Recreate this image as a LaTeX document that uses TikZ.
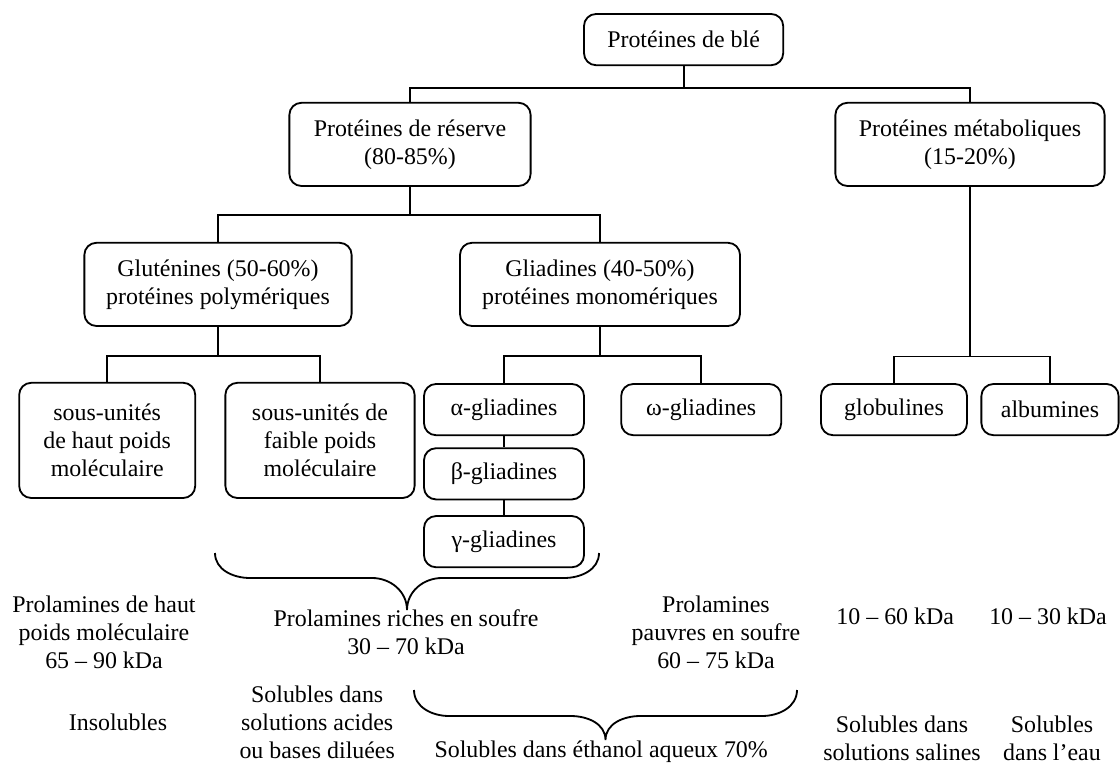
\documentclass[tikz,border=0pt]{standalone}
\usepackage{fontspec}
\setmainfont{Liberation Serif}
\usetikzlibrary{positioning}
\begin{document}
\begin{tikzpicture}[x=1cm,y=1cm,font=\fontsize{17}{20}\selectfont,
  boite/.style={draw, line width=1.3pt, rounded corners=0.3cm, align=center, inner sep=0pt, minimum height=1.28cm},
  lien/.style={line width=1.3pt},
  texte/.style={align=center, inner sep=0pt}]
\useasboundingbox (0,0) rectangle (28,-19.35);
% arbre des proteines
\node[boite, minimum width=4.98cm] (ble) at (17.09,-0.99) {Protéines de blé};
\node[boite, minimum width=6.03cm, minimum height=2.08cm] (reserve) at (10.25,-3.61) {Protéines de réserve\\(80-85\%)};
\node[boite, minimum width=6.73cm, minimum height=2.08cm] (metabo) at (24.25,-3.61) {Protéines métaboliques\\(15-20\%)};
\node[boite, minimum width=6.68cm, minimum height=2.08cm] (glutenines) at (5.45,-7.11) {Gluténines (50-60\%)\\protéines polymériques};
\node[boite, minimum width=7cm, minimum height=2.08cm] (gliadines) at (15,-7.11) {Gliadines (40-50\%)\\protéines monomériques};
\node[boite, minimum width=4.4cm, minimum height=2.88cm] (hpm) at (2.68,-11.01) {sous-unités\\de haut poids\\moléculaire};
\node[boite, minimum width=4.73cm, minimum height=2.88cm] (fpm) at (8,-11.01) {sous-unités de\\faible poids\\moléculaire};
\node[boite, minimum width=4cm] (alpha) at (12.6,-10.24) {α-gliadines};
\node[boite, minimum width=4cm, below=0.28cm of alpha] (beta) {β-gliadines};
\node[boite, minimum width=4cm, below=0.37cm of beta] (gamma) {γ-gliadines};
\node[boite, minimum width=4cm] (omega) at (17.53,-10.24) {ω-gliadines};
\node[boite, minimum width=3.65cm] (globulines) at (22.35,-10.24) {globulines};
\node[boite, minimum width=3.43cm] (albumines) at (26.25,-10.24) {albumines};
% liaisons
\draw[lien] (ble.south) -- ++(0,-0.55) coordinate (n1);
\draw[lien] (reserve.north) |- (n1) -| (metabo.north);
\draw[lien] (reserve.south) -- ++(0,-0.7) coordinate (n2);
\draw[lien] (glutenines.north) |- (n2) -| (gliadines.north);
\draw[lien] (glutenines.south) -- ++(0,-0.72) coordinate (n3);
\draw[lien] (hpm.north) |- (n3) -| (fpm.north);
\draw[lien] (gliadines.south) -- ++(0,-0.72) coordinate (n4);
\draw[lien] (alpha.north) |- (n4) -| (omega.north);
\draw[lien] (alpha) -- (beta);
\draw[lien] (beta) -- (gamma);
\draw[lien] (metabo.south) -- ++(0,-4.24) coordinate (n5);
\draw[lien] (globulines.north) |- (n5) -| (albumines.north);
% accolades
\coordinate (acc1g) at (5.375,-13.825);
\coordinate (acc1d) at (14.975,-13.825);
\draw[lien] (acc1g) to[out=-90,in=180] ++(0.875,-0.625) -- ++(3.05,0) to[out=0,in=90] ++(0.875,-0.8)
  to[out=90,in=180] ++(0.875,0.8) -- ++(3.05,0) to[out=0,in=-90] (acc1d);
\coordinate (acc2g) at (10.35,-17.25);
\coordinate (acc2d) at (19.925,-17.25);
\draw[lien] (acc2g) to[out=-90,in=180] ++(0.875,-0.65) -- ++(3.0375,0) to[out=0,in=90] ++(0.875,-0.6)
  to[out=90,in=180] ++(0.875,0.6) -- ++(3.0375,0) to[out=0,in=-90] (acc2d);
% textes
\node[texte] (prolhpm) at (2.6,-15.8) {Prolamines de haut\\poids moléculaire\\65 -- 90 kDa};
\node[texte] (prolriches) at (10.15,-15.8) {Prolamines riches en soufre\\30 -- 70 kDa};
\node[texte] (prolpauvres) at (17.9,-15.8) {Prolamines\\pauvres en soufre\\60 -- 75 kDa};
\node[texte] (mmglob) at (22.38,-15.4) {10 -- 60 kDa};
\node[texte] (mmalb) at (26.2,-15.4) {10 -- 30 kDa};
\node[texte] (insol) at (2.95,-18.05) {Insolubles};
\node[texte] (solacide) at (7.93,-18.05) {Solubles dans\\solutions acides\\ou bases diluées};
\node[texte] (solethanol) at (15.03,-18.8) {Solubles dans éthanol aqueux 70\%};
\node[texte] (solsalin) at (22.55,-18.45) {Solubles dans\\solutions salines};
\node[texte] (soleau) at (26.3,-18.45) {Solubles\\dans l'eau};
\end{tikzpicture}
\end{document}
